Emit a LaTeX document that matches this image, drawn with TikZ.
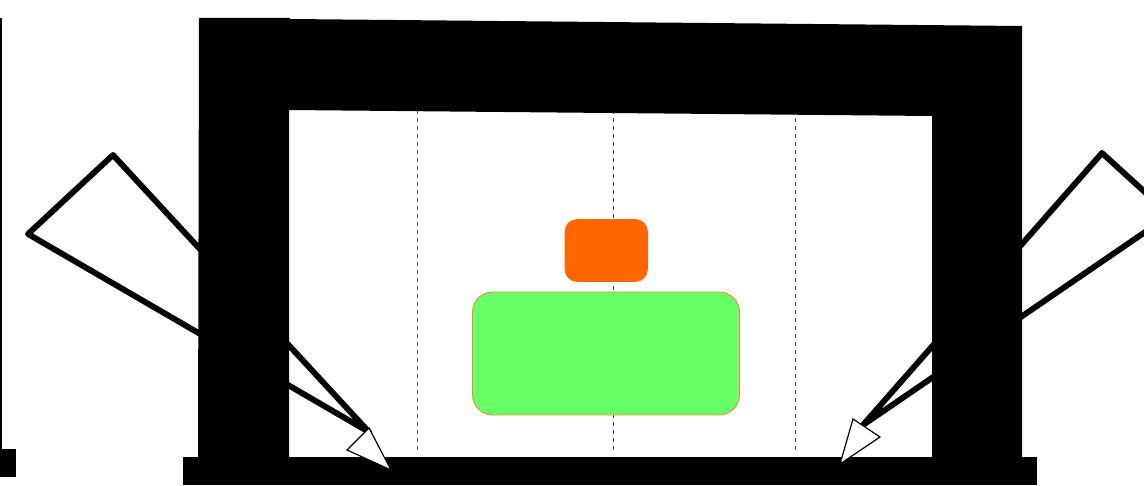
\documentclass[tikz,border=0pt]{standalone}
\definecolor{blockorange}{HTML}{FF6600}
\definecolor{blockgreen}{HTML}{66FF66}
\definecolor{guidegray}{HTML}{4D4D4D}
\tikzset{
  wedge/.style={draw=black,line width=4.4pt,line join=round,line cap=round},
  tipshape/.style={draw=black,fill=white,line width=0.9pt,line join=miter},
  solidblack/.style={fill=black,draw=none},
  guide/.style={draw=guidegray,line width=0.75pt,dash pattern=on 3pt off 3pt},
}
\begin{document}
\begin{tikzpicture}[x=0.75pt,y=-0.75pt]
\useasboundingbox (0,0) rectangle (1144,485);
\fill[white] (0,0) rectangle (1144,485);
% left fragments
\fill[solidblack] (0,18) rectangle (1.6,449);
\fill[solidblack] (0,449) rectangle (16,477);
% wedges
\draw[wedge] (369,432) -- (113,155) -- (28,234) -- cycle;
\begin{scope}
\clip (0,0) rectangle (1144,485);
\draw[wedge] (863,425) -- (1102,153) -- (1170,215) -- cycle;
\end{scope}
% guide lines
\foreach \gx in {417,613.7,795} \draw[guide] (\gx,110) -- (\gx,454);
% frame
\fill[solidblack] (199,18) -- (290,18) -- (290,19) -- (1022,26) -- (1022,457) -- (932,457) -- (932,116) -- (289,110) -- (289,457) -- (198,457) -- cycle;
\fill[solidblack] (183,457) rectangle (1037,485);
% arrow tips
\draw[tipshape] (391,470) -- (347,450) -- (369,428) -- cycle;
\draw[tipshape] (840,464) -- (853,419) -- (880,437) -- cycle;
% blocks
\draw[fill=blockorange,draw=blockorange,line width=0.4pt,rounded corners=9pt] (565,219.5) rectangle (647.5,281.5);
\draw[fill=blockgreen,draw=blockorange!80!white,line width=0.6pt,rounded corners=15pt] (472.5,292) rectangle (739.5,415);
\end{tikzpicture}
\end{document}
